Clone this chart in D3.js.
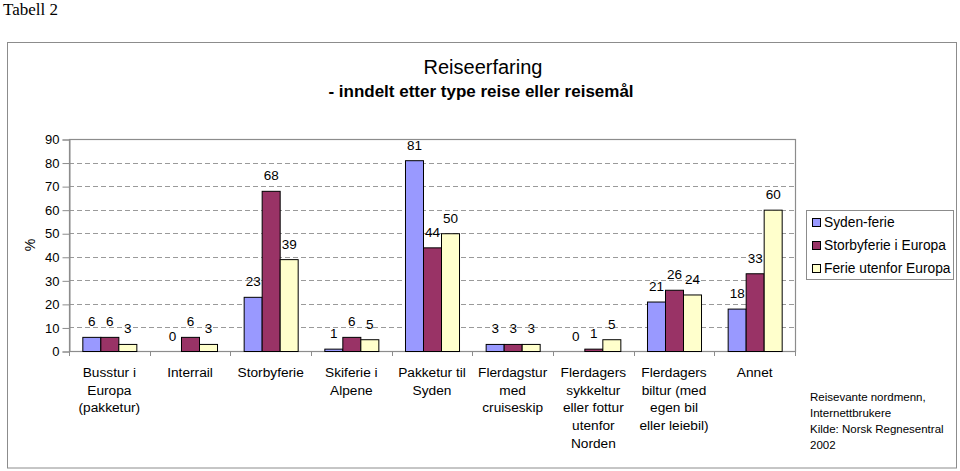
<!DOCTYPE html>
<html>
<head>
<meta charset="utf-8">
<script src="https://cdn.jsdelivr.net/npm/d3@7/dist/d3.min.js"></script>
<style>
  html, body { margin: 0; padding: 0; background: #fff; }
  svg { display: block; }
  text { font-family: Arial, "Liberation Sans", sans-serif; fill: #000; }
</style>
</head>
<body>
<svg id="chart" width="960" height="471"></svg>
<script>
const categories = [
  ["Busstur i", "Europa", "(pakketur)"],
  ["Interrail"],
  ["Storbyferie"],
  ["Skiferie i", "Alpene"],
  ["Pakketur til", "Syden"],
  ["Flerdagstur", "med", "cruiseskip"],
  ["Flerdagers", "sykkeltur", "eller fottur", "utenfor", "Norden"],
  ["Flerdagers", "biltur (med", "egen bil", "eller leiebil)"],
  ["Annet"]
];
const seriesNames = ["Syden-ferie", "Storbyferie i Europa", "Ferie utenfor Europa"];
const sydenFerie      = [6, 0, 23, 1, 81, 3, 0, 21, 18];
const storbyferieEur  = [6, 6, 68, 6, 44, 3, 1, 26, 33];
const ferieUtenforEur = [3, 3, 39, 5, 50, 3, 5, 24, 60];
const seriesValues = [sydenFerie, storbyferieEur, ferieUtenforEur];
const yTicks = [0, 10, 20, 30, 40, 50, 60, 70, 80, 90];
const colors = ["#9999FF", "#993366", "#FFFFCC"];
const footnote = ["Reisevante nordmenn,", "Internettbrukere", "Kilde: Norsk Regnesentral", "2002"];

(function () {
const svg = d3.select("#chart");

// Page caption
svg.append("text").attr("x", 3).attr("y", 15)
  .style("font-family", "'Times New Roman', 'Liberation Serif', serif")
  .style("font-size", "17px").text("Tabell 2");

// Chart border
svg.append("rect").attr("x", 7.5).attr("y", 42.5).attr("width", 949).attr("height", 425.5)
  .attr("fill", "#fff").attr("stroke", "#8c8c8c").attr("stroke-width", 1);

// Title
svg.append("text").attr("x", 483).attr("y", 74).attr("text-anchor", "middle")
  .style("font-size", "20px").text("Reiseerfaring");
svg.append("text").attr("x", 481).attr("y", 97).attr("text-anchor", "middle")
  .style("font-size", "17px").style("font-weight", "bold")
  .text("- inndelt etter type reise eller reisemål");

const pLeft = 69, pRight = 795, pTop = 139, pBottom = 351;

const catIdx = categories.map((d, i) => i);
const x0 = d3.scaleBand().domain(catIdx).range([pLeft, pRight]).paddingInner(0).paddingOuter(0);
const x1 = d3.scaleBand().domain([0, 1, 2]).range([0, x0.bandwidth()]).paddingInner(0).paddingOuter(0.74);
const y = d3.scaleLinear().domain([0, 90]).range([pBottom, pTop]);

// Gridlines
svg.append("g").selectAll("line").data(yTicks.filter(t => t > 0 && t < 90)).join("line")
  .attr("x1", pLeft).attr("x2", pRight)
  .attr("y1", d => Math.round(y(d)) + 0.5).attr("y2", d => Math.round(y(d)) + 0.5)
  .attr("stroke", "#9a9a9a").attr("stroke-width", 1).attr("stroke-dasharray", "5,3");

// Plot area border
svg.append("rect").attr("x", pLeft + 0.5).attr("y", pTop + 0.5)
  .attr("width", pRight - pLeft).attr("height", pBottom - pTop)
  .attr("fill", "none").attr("stroke", "#8c8c8c").attr("stroke-width", 1.2);

// Y axis
const yAxis = d3.axisLeft(y).tickValues(yTicks).tickSize(7).tickPadding(3).tickFormat(d3.format("d"));
const gy = svg.append("g").attr("transform", `translate(${pLeft + 0.5},0.5)`).call(yAxis);
gy.select(".domain").attr("stroke", "#8c8c8c");
gy.selectAll(".tick line").attr("stroke", "#8c8c8c");
gy.selectAll(".tick text").style("font-size", "13px").style("font-family", "Arial, 'Liberation Sans', sans-serif").attr("fill", "#000");

// X category ticks at boundaries
const bounds = catIdx.map(i => x0(i)).concat([pRight]);
svg.append("g").selectAll("line").data(bounds).join("line")
  .attr("x1", d => Math.round(d) + 0.5).attr("x2", d => Math.round(d) + 0.5)
  .attr("y1", pBottom).attr("y2", pBottom + 5)
  .attr("stroke", "#8c8c8c");

// Bars
const groups = svg.append("g").selectAll("g").data(catIdx).join("g")
  .attr("transform", i => `translate(${x0(i)},0)`);
groups.selectAll("rect").data(i => seriesValues.map((s, k) => ({k, v: s[i]}))).join("rect")
  .attr("x", d => x1(d.k) + 0.5)
  .attr("y", d => y(d.v) + 0.5)
  .attr("width", x1.bandwidth())
  .attr("height", d => Math.max(0, pBottom - y(d.v)))
  .attr("fill", d => colors[d.k])
  .attr("stroke", d => d.v > 0 ? "#000" : "none")
  .attr("stroke-width", 1);

// Data labels
groups.selectAll("text").data(i => seriesValues.map((s, k) => ({k, v: s[i]}))).join("text")
  .attr("x", d => x1(d.k) + x1.bandwidth() / 2 + 0.5)
  .attr("y", d => y(d.v) - 10.5)
  .attr("text-anchor", "middle")
  .style("font-size", "13.5px")
  .text(d => d.v);

// Category labels
const catG = svg.append("g").selectAll("text").data(catIdx).join("text")
  .attr("text-anchor", "middle")
  .style("font-size", "13.7px")
  .attr("transform", i => `translate(${x0(i) + x0.bandwidth() / 2},377)`);
catG.selectAll("tspan").data(i => categories[i]).join("tspan")
  .attr("x", 0).attr("y", (d, j) => j * 17.7).text(d => d);

// Y label
svg.append("text").attr("transform", "translate(35,245) rotate(-90)")
  .attr("text-anchor", "middle").style("font-size", "14px").text("%");

// Legend
const lg = svg.append("g");
lg.append("rect").attr("x", 806.5).attr("y", 210.5).attr("width", 147).attr("height", 69)
  .attr("fill", "#fff").attr("stroke", "#8c8c8c");
const items = lg.selectAll("g").data(seriesNames).join("g")
  .attr("transform", (d, i) => `translate(812,${222 + i * 23})`);
items.append("rect").attr("x", 0.5).attr("y", -3.5).attr("width", 8).attr("height", 8)
  .attr("fill", (d, i) => colors[i]).attr("stroke", "#000");
items.append("text").attr("x", 12).attr("y", 5).style("font-size", "13.8px").text(d => d);

// Footnote
svg.append("g").selectAll("text").data(footnote).join("text")
  .attr("x", 810).attr("y", (d, i) => 401 + i * 16)
  .style("font-size", "11.5px").text(d => d);
})();
</script>
</body>
</html>
